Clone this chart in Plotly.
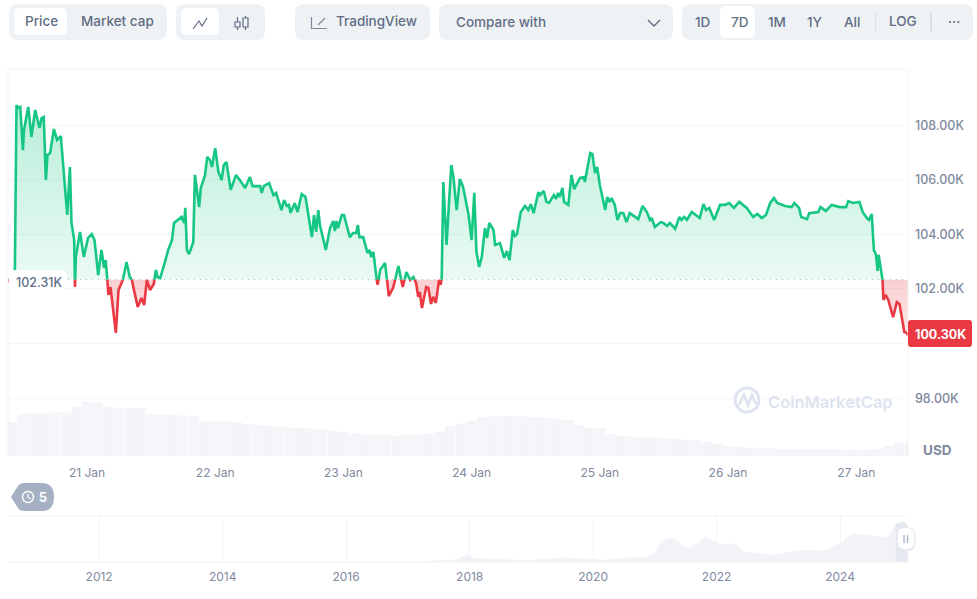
import pandas as pd
import plotly.graph_objects as go

W, H = 977, 599
BASE = 102.34
GREEN, RED = "#16c784", "#ea3943"
PILL = "#eff2f5"
TXT = "#616e85"
MUTED = "#808a9d"

# hours since 20 Jan 00:00
hours = [9.2,10.3,10.5,10.8,11.1,11.5,12.0,12.2,13.0,13.6,14.3,15.1,15.5,15.9,16.3,16.6,17.1,17.8,18.4,19.1,19.6,20.0,20.3,20.8,21.1,21.6,21.75,21.9,22.7,23.4,24.2,24.9,25.4,26.1,26.7,27.2,27.5,27.8,28.0,28.4,28.9,29.4,29.9,30.3,30.7,31.4,32.0,32.4,32.7,33.5,34.2,34.7,35.2,35.8,36.5,36.9,37.2,37.7,38.6,39.2,39.9,40.3,41.7,42.2,42.4,42.7,43.1,43.9,44.2,44.6,45.0,45.3,46.1,46.5,47.0,47.4,48.0,48.6,49.2,49.6,50.1,50.9,51.9,52.6,53.6,54.5,55.0,56.4,56.7,57.1,58.1,58.9,59.4,60.4,60.9,61.4,61.8,62.1,62.9,63.4,64.2,64.9,66.1,66.5,66.9,67.3,67.6,68.7,69.5,70.1,70.4,70.7,71.0,71.7,72.1,73.2,73.8,74.4,74.7,75.0,75.7,76.5,76.9,77.2,77.6,78.2,78.4,78.9,79.8,80.5,81.3,82.3,83.1,83.8,84.5,85.1,85.6,86.0,86.3,86.7,87.5,87.9,88.4,88.8,89.3,89.9,90.2,90.4,90.7,91.3,91.8,92.2,92.6,93.2,93.8,94.4,95.4,96.0,96.5,96.9,97.4,97.9,98.5,98.9,99.3,100.1,100.4,101.3,102.1,102.6,103.1,103.7,104.1,104.5,105.2,106.0,106.6,107.1,107.6,108.5,108.8,109.5,110.0,110.5,111.4,111.8,112.2,112.5,113.0,113.3,114.1,114.7,115.2,116.3,117.0,117.2,118.2,118.6,119.1,119.5,120.0,121.0,121.4,121.8,122.2,122.8,123.3,123.8,124.4,125.0,125.6,127.2,128.0,128.8,129.4,129.7,130.3,131.4,131.9,132.6,133.1,134.1,134.9,135.3,135.8,136.3,137.2,138.7,139.4,139.9,140.5,141.4,142.5,143.4,144.2,145.1,146.1,147.5,148.7,149.5,150.3,151.1,151.9,152.6,153.2,154.7,155.9,156.4,157.3,157.7,158.8,159.2,160.9,161.3,162.3,163.4,164.9,166.1,166.5,167.4,168.6,169.2,170.0,170.4,170.9,171.3,171.7,172.0,172.2,172.9,173.1,173.5,174.0,174.9,175.6,176.1,177.0,177.4,177.7]
# price, thousand USD
prices = [102.26,102.62,102.70,108.74,108.63,108.67,107.09,107.82,108.67,107.57,108.56,107.90,108.26,108.30,105.99,106.91,106.98,107.86,107.46,107.60,106.43,105.26,104.71,106.47,104.42,103.79,102.07,103.17,104.09,103.17,103.87,104.01,103.79,102.51,103.43,102.77,103.06,102.33,101.78,102.07,101.12,100.39,101.96,102.15,102.33,102.99,102.44,102.33,102.04,101.34,101.67,101.41,102.33,101.96,102.18,102.70,102.44,102.40,102.99,103.43,103.79,104.42,104.64,104.42,104.97,103.43,103.28,103.72,106.18,105.63,105.00,105.70,106.18,106.84,106.73,106.47,107.16,106.29,105.99,106.54,106.65,105.63,106.18,105.99,105.70,106.10,105.77,105.77,105.52,105.77,105.88,105.44,105.52,104.89,105.26,105.04,105.08,104.78,105.15,104.82,105.48,105.37,103.90,104.71,104.09,104.89,104.34,103.43,104.23,104.49,104.12,104.49,104.23,104.71,104.71,103.90,104.05,104.05,104.34,103.90,103.90,103.32,103.43,103.17,103.36,102.40,102.15,102.70,102.95,101.74,102.04,102.84,102.07,102.62,102.33,102.44,102.22,101.71,101.89,101.30,102.07,102.04,101.45,101.71,101.49,102.33,102.15,102.40,105.92,103.61,105.26,106.54,106.10,104.89,106.03,105.74,104.75,103.79,105.52,103.36,102.81,103.17,104.23,103.87,104.42,104.16,103.61,103.68,103.14,103.39,103.06,104.16,103.94,104.01,104.82,105.04,104.89,105.11,104.78,105.55,105.44,105.59,105.19,105.15,105.44,105.30,105.52,105.37,105.70,105.19,105.08,106.18,105.66,106.07,106.10,105.92,106.98,106.95,106.25,106.47,105.81,104.89,105.37,105.19,105.33,105.08,104.53,104.78,104.78,104.45,104.78,104.56,105.04,104.82,104.53,104.60,104.27,104.45,104.42,104.31,104.42,104.20,104.64,104.53,104.64,104.53,104.82,104.60,105.11,104.89,104.97,104.53,105.08,105.08,105.15,104.97,105.19,104.97,104.64,104.75,104.60,104.71,105.15,105.33,105.15,105.04,105.00,105.15,104.97,104.64,104.56,104.78,104.82,105.00,104.86,105.08,105.00,105.00,105.22,105.15,105.19,104.82,104.60,104.53,104.75,103.43,103.25,102.66,103.25,102.40,101.60,101.78,101.60,100.97,101.52,101.45,100.42,100.39,100.30]
# two-hourly volume, billion USD
volumes = [34,42,42.5,42.5,43.5,43.5,49,54.5,53.5,49.5,48,48,48,42,41,41,40.5,40,35,35,35,34,32,31,30,29,28.5,28,27.5,26.5,25,24,22.5,21.5,21,21,20.5,21,21.5,22,24,30,32.5,35,39,39.5,40,40,39.5,39,38,37,36,31,28,28,22,20,19.5,19,18.5,18,17,16.5,16,14,12,10,9,8.5,8,7.5,7,7,7,7,7,6.5,6,6,6,7,10,13,14]
day_ticks = ["2025-01-21","2025-01-22","2025-01-23","2025-01-24","2025-01-25","2025-01-26","2025-01-27"]
day_labels = ["21 Jan","22 Jan","23 Jan","24 Jan","25 Jan","26 Jan","27 Jan"]
price_ticks = [98,100,102,104,106,108]
price_labels = ["98.00K","","102.00K","104.00K","106.00K","108.00K"]
year_ticks = ["2012-01-01","2014-01-01","2016-01-01","2018-01-01","2020-01-01","2022-01-01","2024-01-01"]
year_labels = ["2012","2014","2016","2018","2020","2022","2024"]
hist_dates = ["2010-07-15","2011-06-01","2012-01-01","2013-01-01","2013-12-01","2014-12-01","2016-01-01","2017-01-01","2017-06-01","2017-10-01","2017-12-17","2018-02-01","2018-05-01","2018-12-15","2019-06-25","2019-12-15","2020-03-15","2020-08-15","2020-11-10","2021-01-01","2021-02-01","2021-03-01","2021-04-20","2021-05-15","2021-06-15","2021-07-25","2021-09-01","2021-11-01","2022-01-01","2022-02-05","2022-04-20","2022-06-25","2022-08-20","2022-12-01","2023-03-15","2023-06-20","2023-09-25","2024-01-01","2024-03-15","2024-05-20","2024-08-05","2024-10-10","2024-11-25","2025-01-10","2025-02-05"]
hist_prices = [0.1,0.02,0.01,0.02,1.1,0.3,0.4,1,2.5,5,19,9,8,3.5,11,7,5,11,13,24,48,58,64,58,39,35,48,67,50,46,48,24,24,17,26,32,28,48,74,70,67,65,100,105,96]
SELECTED_COUNT = 3

t0 = pd.Timestamp("2025-01-20")
times = [t0 + pd.Timedelta(hours=h) for h in hours]


def split(ts, vs):
    gx, gy, rx, ry = [], [], [], []
    fgx, fgy, frx, fry = [], [], [], []
    seg, sign = [], None

    def flush(seg, sign):
        xs, ys = [p[0] for p in seg], [p[1] for p in seg]
        lx, ly, fx, fy = (gx, gy, fgx, fgy) if sign else (rx, ry, frx, fry)
        lx += xs + [None]
        ly += ys + [None]
        fx += xs + [xs[-1], xs[0], None]
        fy += ys + [BASE, BASE, None]

    for i, (t, v) in enumerate(zip(ts, vs)):
        s = v >= BASE
        if sign is None:
            sign = s
        elif s != sign:
            a, b = ts[i - 1], vs[i - 1]
            c = a + (t - a) * ((BASE - b) / (v - b))
            seg.append((c, BASE))
            flush(seg, sign)
            seg, sign = [(c, BASE)], s
        seg.append((t, v))
    flush(seg, sign)
    return gx, gy, rx, ry, fgx, fgy, frx, fry


gx, gy, rx, ry, fgx, fgy, frx, fry = split(times, prices)

fig = go.Figure()
vol_t = pd.date_range("2025-01-20 10:00", periods=len(volumes), freq="2h")
fig.add_trace(go.Bar(x=vol_t, y=volumes, yaxis="y2", marker=dict(color="#f3f5f8", line_width=0),
                     width=2 * 3600 * 1000 * 0.97, hoverinfo="skip"))
fig.add_trace(go.Scatter(x=fgx, y=fgy, fill="toself", mode="none", hoverinfo="skip",
                         fillgradient=dict(type="vertical", start=BASE, stop=108.8,
                                           colorscale=[[0, "rgba(22,199,132,0.09)"], [1, "rgba(22,199,132,0.30)"]])))
fig.add_trace(go.Scatter(x=frx, y=fry, fill="toself", mode="none", hoverinfo="skip",
                         fillgradient=dict(type="vertical", start=100.3, stop=BASE,
                                           colorscale=[[0, "rgba(234,57,67,0.12)"], [1, "rgba(234,57,67,0.24)"]])))
fig.add_trace(go.Scatter(x=gx, y=gy, mode="lines", line=dict(color=GREEN, width=2.6), hoverinfo="skip"))
fig.add_trace(go.Scatter(x=rx, y=ry, mode="lines", line=dict(color=RED, width=2.6), hoverinfo="skip"))
fig.add_trace(go.Scatter(x=pd.to_datetime(hist_dates), y=hist_prices, xaxis="x3", yaxis="y3", mode="lines",
                         line=dict(color="#f1f3f7", width=0.5), fill="tozeroy", fillcolor="#f1f3f7", hoverinfo="skip"))
fig.add_trace(go.Scatter(x=pd.to_datetime(hist_dates[-SELECTED_COUNT:]), y=hist_prices[-SELECTED_COUNT:], xaxis="x3", yaxis="y3",
                         mode="lines", line=dict(color="#e6eaf0", width=0.5), fill="tozeroy", fillcolor="#e6eaf0", hoverinfo="skip"))


def P(x, y):
    return f"{x / W:.5f},{1 - y / H:.5f}"


def rrect(x0, y0, x1, y1, r, fill, line=None, layer="above"):
    path = (f"M{P(x0 + r, y0)} L{P(x1 - r, y0)} Q{P(x1, y0)} {P(x1, y0 + r)} L{P(x1, y1 - r)} Q{P(x1, y1)} {P(x1 - r, y1)} "
            f"L{P(x0 + r, y1)} Q{P(x0, y1)} {P(x0, y1 - r)} L{P(x0, y0 + r)} Q{P(x0, y0)} {P(x0 + r, y0)} Z")
    return dict(type="path", xref="paper", yref="paper", path=path, fillcolor=fill, line=dict(width=0), layer=layer)


def stroke(points, color, width=1.3, close=False):
    path = "M" + " L".join(P(x, y) for x, y in points) + (" Z" if close else "")
    return dict(type="path", xref="paper", yref="paper", path=path, line=dict(color=color, width=width), layer="above")


def hline(y, x0, x1, color):
    return dict(type="line", xref="paper", yref="paper", x0=x0 / W, x1=x1 / W, y0=1 - y / H, y1=1 - y / H,
                line=dict(color=color, width=1), layer="below")


def vline(x, y0, y1, color, width=1):
    return dict(type="line", xref="paper", yref="paper", x0=x / W, x1=x / W, y0=1 - y0 / H, y1=1 - y1 / H,
                line=dict(color=color, width=width), layer="above")


def circle(cx, cy, r, color, width, fill="rgba(0,0,0,0)"):
    return dict(type="circle", xref="paper", yref="paper", x0=(cx - r) / W, x1=(cx + r) / W,
                y0=1 - (cy + r) / H, y1=1 - (cy - r) / H, line=dict(color=color, width=width), fillcolor=fill, layer="above")


shapes = [
    rrect(9, 4, 167, 40, 9, PILL), rrect(14, 8, 67, 35, 6, "white"),
    rrect(176, 4, 265, 40, 9, PILL), rrect(181, 8, 219, 35, 6, "white"),
    rrect(295, 4, 430, 40, 9, PILL), rrect(439, 4, 673, 40, 9, PILL),
    rrect(682, 4, 973, 40, 9, PILL), rrect(720, 6, 755, 38, 6, "white"),
    stroke([(193, 29), (199, 21), (202, 26), (207, 18)], TXT, 1.2),
    vline(237.5, 17, 30, TXT, 1.2), vline(245.5, 16, 30, TXT, 1.2),
    rrect(235, 22, 240, 27, 1, PILL), rrect(243, 18, 248, 27, 1, PILL),
    stroke([(235, 22), (240, 22), (240, 27), (235, 27)], TXT, 1.2, True),
    stroke([(243, 18), (248, 18), (248, 27), (243, 27)], TXT, 1.2, True),
    stroke([(311.5, 17), (311.5, 28.5), (327, 28.5)], MUTED, 1.2),
    stroke([(318, 25), (325, 18)], MUTED, 1.2),
    stroke([(648, 20), (654, 26), (660, 20)], TXT, 1.4),
    vline(875.7, 13, 31, "#d5dbe5"), vline(931, 13, 31, "#cfd6e4", 1.5),
    hline(69, 8, 908, "#eff2f5"),
    vline(8, 69, 456, "#f1f3f6"), vline(908, 69, 456, "#eff2f5"),
    hline(516, 8, 908, "#f1f3f6"), hline(562, 8, 908, "#f1f3f6"),
    dict(type="line", xref="paper", yref="y", x0=8 / W, x1=908 / W, y0=BASE, y1=BASE,
         line=dict(color="#a8b0bd", width=1, dash="1px,5px"), layer="above"),
    rrect(9, 270, 67, 289, 6, "white"),
    rrect(908, 320, 972, 347, 3, RED),
    circle(747, 400, 12, "#dde4ef", 3),
    stroke([(739, 405), (744, 395), (748, 405), (752, 395), (756, 404)], "#dde4ef", 2.6),
    dict(type="path", xref="paper", yref="paper", line=dict(width=0), fillcolor="#a6b0c3", layer="above",
         path=f"M{P(11, 497)} L{P(18, 486)} Q{P(20, 483)} {P(24, 483)} L{P(42, 483)} Q{P(54, 483)} {P(54, 497)} "
              f"Q{P(54, 511)} {P(42, 511)} L{P(24, 511)} Q{P(20, 511)} {P(18, 508)} Z"),
    circle(28, 497, 5.5, "white", 1.4),
    stroke([(28, 494), (28, 497.5), (31, 499)], "white", 1.2),
    rrect(896.5, 527.5, 915.5, 551, 8, "#e6e9f0"),
    rrect(898, 528, 914, 549, 7, "white"),
    vline(904, 535, 543, "#a6b0c3", 1.3), vline(907.5, 535, 543, "#a6b0c3", 1.3),
]


def label(x, y, text, size=13.5, color=TXT, anchor="center", weight=500):
    return dict(xref="paper", yref="paper", x=x / W, y=1 - y / H, text=text, borderpad=0, borderwidth=0,
                showarrow=False, xanchor=anchor, yanchor="middle",
                font=dict(family="Inter", size=size, color=color, weight=weight))


labels = [
    label(41, 21.5, "Price"), label(117, 21.5, "Market cap"),
    label(376, 21.5, "TradingView"), label(456, 22.5, "Compare with", anchor="left"),
    label(702, 22.5, "1D"), label(739, 22.5, "7D"), label(777, 22.5, "1M"), label(815, 22.5, "1Y"),
    label(852, 22.5, "All"), label(903, 21.5, "LOG"), label(954, 22, "···"),
    label(39, 282, "102.31K", 12.5), label(940, 334, "100.30K", 12.5, "white", weight=700),
    label(937, 450, "USD", 13.5, MUTED, weight=700),
    label(768, 402, "CoinMarketCap", 16.5, "#dde4ef", anchor="left", weight=600),
    label(43, 497, "5", 12.5, "white", weight=700),
]

fig.update_layout(
    width=W, height=H, autosize=False, margin=dict(l=0, r=0, t=0, b=0), paper_bgcolor="white", plot_bgcolor="rgba(0,0,0,0)",
    showlegend=False, shapes=shapes, annotations=labels, barmode="overlay",
    xaxis=dict(domain=[8 / W, 908 / W], type="date", anchor="y", range=[t0 + pd.Timedelta(hours=9.21), t0 + pd.Timedelta(hours=177.69)],
               tickmode="array", tickvals=day_ticks, ticktext=day_labels, showgrid=False, zeroline=False, showline=False,
               tickfont=dict(family="Inter", size=12, color=MUTED), ticklabelstandoff=8, ticks=""),
    yaxis=dict(domain=[1 - 456 / H, 1 - 69 / H], range=[95.88, 110.06], side="right", anchor="x", tickmode="array",
               tickvals=price_ticks, ticktext=price_labels, gridcolor="#f4f5f8", gridwidth=1, zeroline=False, showline=False,
               tickfont=dict(family="Inter", size=12.5, color=MUTED, weight=500), ticklabelstandoff=6, ticks=""),
    yaxis2=dict(domain=[1 - 456 / H, 1 - 69 / H], range=[0, 387], overlaying="y", visible=False, anchor="x"),
    xaxis3=dict(domain=[8 / W, 908 / W], type="date", anchor="y3", range=["2010-07-11", "2025-02-06"], tickmode="array",
                tickvals=year_ticks, ticktext=year_labels, gridcolor="#f1f3f6", zeroline=False, showline=False,
                tickfont=dict(family="Inter", size=12, color=MUTED), ticklabelstandoff=6, ticks=""),
    yaxis3=dict(domain=[1 - 562 / H, 1 - 516 / H], range=[0, 120.75], visible=False, anchor="x3"),
)

fig.write_html("out.html", config=dict(displayModeBar=False),
               post_script="document.body.style.margin='0';document.body.style.overflow='hidden';")
